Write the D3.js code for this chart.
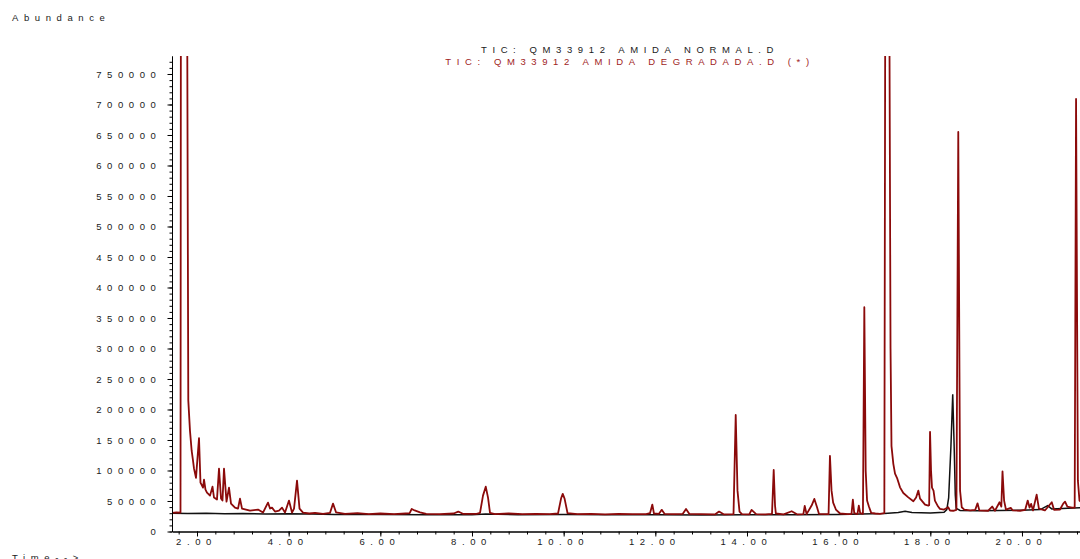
<!DOCTYPE html>
<html>
<head>
<meta charset="utf-8">
<script src="https://cdn.jsdelivr.net/npm/d3@7"></script>
<style>
  body { margin: 0; background: #fff; }
  svg text { font-family: 'Liberation Sans', Arial, sans-serif; font-size: 9.5px; fill: #1a1a1a; letter-spacing: 5.6px; }
</style>
</head>
<body>
<div id="chart"></div>
<script>
// time (min), abundance
var normalTrace = [
  [1.46, 30000], [1.8, 29500], [2.2, 30000], [2.6, 29000], [3.0, 29500], [3.5, 28500],
  [4.0, 29000], [4.5, 28500], [5.0, 28000], [6.0, 28000], [7.0, 27500], [8.0, 27500],
  [8.3, 28500], [9.0, 27500], [10.0, 28000], [11.0, 27500], [12.0, 27500], [13.0, 27000],
  [14.0, 27500], [15.0, 27500], [16.0, 28000], [16.5, 28500], [17.0, 29500], [17.3, 31000],
  [17.45, 33000], [17.6, 31000], [18.0, 30500], [18.3, 31500], [18.36, 36000], [18.40, 55000],
  [18.45, 140000], [18.489, 225000], [18.52, 140000], [18.545, 60000], [18.565, 38000],
  [18.65, 34500], [19.0, 34000], [19.5, 34500], [20.0, 35000], [20.4, 36000], [20.56, 42500],
  [20.65, 37000], [21.0, 38000], [21.31, 39000]
]

var degradedTrace = [
  [1.46, 30500], [1.55, 31500], [1.64, 31000], [1.65, 1000000], [1.73, 2000000], [1.78, 1000000],
  [1.81, 215000], [1.847, 165000], [1.884, 132000], [1.913, 116000], [1.935, 103000], [1.978, 88000],
  [2.044, 153000], [2.076, 80000], [2.131, 72000], [2.153, 85000], [2.185, 68600], [2.218, 63700],
  [2.284, 58800], [2.338, 73500], [2.371, 55600], [2.436, 52300], [2.48, 103000], [2.524, 54000],
  [2.556, 50700], [2.589, 103000], [2.644, 49000], [2.698, 72000], [2.742, 45800], [2.829, 39200],
  [2.895, 37600], [2.938, 54000], [2.982, 37600], [3.156, 34300], [3.331, 36000], [3.44, 31000],
  [3.549, 47400], [3.593, 37600], [3.636, 39200], [3.702, 32700], [3.789, 34300], [3.855, 39200],
  [3.92, 31000], [4.007, 50700], [4.073, 31000], [4.117, 37600], [4.182, 83300], [4.237, 37600],
  [4.313, 31000], [4.45, 29500], [4.575, 30500], [4.75, 29000], [4.902, 30500], [4.968, 45800],
  [5.033, 31500], [5.229, 29000], [5.5, 30000], [5.75, 28500], [6.0, 29500], [6.3, 28500],
  [6.55, 29500], [6.64, 30000], [6.685, 37000], [6.75, 34500], [6.866, 31500], [7.0, 29000],
  [7.3, 28500], [7.6, 29500], [7.70, 32700], [7.8, 29000], [8.1, 29000], [8.175, 30500],
  [8.24, 58800], [8.30, 73500], [8.35, 55600], [8.393, 30500], [8.5, 28500], [8.8, 29500],
  [9.1, 28500], [9.4, 29000], [9.7, 28500], [9.877, 29500], [9.943, 54000], [9.98, 61600],
  [10.02, 54000], [10.085, 30000], [10.3, 28500], [10.6, 29000], [10.9, 28000], [11.2, 29000],
  [11.5, 28500], [11.8, 28500], [11.884, 30000], [11.935, 44100], [11.97, 29500], [12.08, 29000],
  [12.14, 35500], [12.2, 29000], [12.4, 28500], [12.6, 29000], [12.67, 37000], [12.74, 29000],
  [13.0, 28500], [13.3, 28000], [13.39, 32700], [13.5, 28000], [13.706, 28500], [13.754, 191000],
  [13.793, 67000], [13.837, 32700], [13.89, 28500], [14.05, 28000], [14.10, 35500], [14.2, 28500],
  [14.4, 28000], [14.546, 29000], [14.583, 100800], [14.612, 42500], [14.63, 29500], [14.8, 28000],
  [14.975, 33200], [15.1, 28000], [15.23, 28500], [15.26, 42000], [15.30, 28500], [15.41, 42500],
  [15.47, 53400], [15.53, 39200], [15.57, 29000], [15.78, 28500], [15.81, 124000], [15.845, 67000],
  [15.88, 47400], [15.94, 36000], [16.03, 29500], [16.2, 28500], [16.28, 28500], [16.31, 52300],
  [16.34, 30000], [16.41, 28500], [16.44, 42500], [16.47, 30000], [16.53, 29000], [16.56, 367700],
  [16.59, 99700], [16.62, 50700], [16.66, 40900], [16.71, 30500], [16.8, 29500], [16.9, 29000],
  [16.997, 30000], [17.02, 1000000], [17.06, 2000000], [17.10, 1000000], [17.132, 300000],
  [17.153, 140000], [17.193, 111000], [17.23, 94800], [17.28, 86600], [17.339, 72400], [17.411, 63100],
  [17.52, 56000], [17.63, 49500], [17.69, 55600], [17.739, 67000], [17.776, 53900], [17.885, 44100],
  [17.957, 42500], [17.975, 43000], [17.994, 163400], [18.016, 99700], [18.037, 71900], [18.07, 67000],
  [18.10, 50700], [18.17, 40900], [18.21, 37100], [18.30, 36000], [18.39, 39700], [18.43, 34300],
  [18.5, 34000], [18.57, 35500], [18.61, 655000], [18.649, 67000], [18.686, 39700], [18.74, 36000],
  [18.87, 34500], [18.98, 35500], [19.03, 46200], [19.07, 34500], [19.26, 34000], [19.35, 40900],
  [19.41, 34000], [19.51, 47900], [19.55, 40900], [19.575, 98500], [19.61, 50700], [19.65, 36000],
  [19.755, 38700], [19.80, 34500], [19.96, 34000], [20.07, 35500], [20.125, 50700], [20.165, 39200],
  [20.20, 45300], [20.24, 34500], [20.32, 60500], [20.37, 37600], [20.50, 34500], [20.65, 47900],
  [20.70, 35500], [20.83, 36000], [20.90, 45800], [20.94, 49000], [20.99, 40900], [21.09, 39200],
  [21.15, 39000], [21.18, 709000], [21.22, 83300], [21.255, 50700], [21.31, 47000]
]

var yMajorTicks = [0, 50000, 100000, 150000, 200000, 250000, 300000, 350000, 400000, 450000, 500000, 550000, 600000, 650000, 700000, 750000]
var xMajorTicks = [2, 4, 6, 8, 10, 12, 14, 16, 18, 20]
var titles = ['TIC: QM33912 AMIDA NORMAL.D', 'TIC: QM33912 AMIDA DEGRADADA.D (*)']

var w = 1080
var h = 559

var svg = d3.select('div#chart').append('svg')
  .attr('width', w)
  .attr('height', h)

var x = d3.scaleLinear().domain([1.4545, 21.266]).range([172, 1080])
var y = d3.scaleLinear().domain([0, 779500]).range([531.5, 56])

var yMinor = d3.range(0, 770001, 10000)
var xMinor = d3.range(1.6, 21.3, 0.4)

svg.append('clipPath').attr('id', 'plot')
  .append('rect').attr('x', 172).attr('y', 56).attr('width', w - 172).attr('height', 531.5 - 56)

var line = d3.line()
  .x(function (d) { return x(d[0]) })
  .y(function (d) { return y(d[1]) })

var g_lines = svg.append('g').attr('clip-path', 'url(#plot)')

g_lines.append('path')
  .datum(normalTrace)
  .attr('d', line)
  .attr('fill', 'none')
  .attr('stroke', '#111')
  .attr('stroke-width', 1.5)

g_lines.append('path')
  .datum(degradedTrace)
  .attr('d', line)
  .attr('fill', 'none')
  .attr('stroke', '#8b0a0a')
  .attr('stroke-width', 1.8)
  .attr('stroke-linejoin', 'round')

// y axis: minor then major
svg.append('g')
  .attr('transform', 'translate(172,0)')
  .call(d3.axisLeft(y).tickValues(yMinor).tickSize(2.5).tickSizeOuter(0).tickFormat(''))
svg.append('g')
  .attr('class', 'yaxis')
  .attr('transform', 'translate(172,0)')
  .call(d3.axisLeft(y).tickValues(yMajorTicks).tickSize(4.5).tickPadding(6).tickSizeOuter(0).tickFormat(d3.format('d')))

// x axis
svg.append('g')
  .attr('transform', 'translate(0,531.5)')
  .call(d3.axisBottom(x).tickValues(xMinor).tickSize(3).tickSizeOuter(0).tickFormat(''))
svg.append('g')
  .attr('class', 'xaxis')
  .attr('transform', 'translate(0,531.5)')
  .call(d3.axisBottom(x).tickValues(xMajorTicks).tickSize(5).tickPadding(1.4).tickSizeOuter(0).tickFormat(d3.format('.2f')))

svg.selectAll('.domain').attr('stroke', '#000')
svg.selectAll('.tick line').attr('stroke', '#000')
svg.selectAll('.tick text')
  .attr('font-family', null)
  .attr('font-size', null)
  .attr('fill', '#1a1a1a')
  .style('letter-spacing', '5.6px')
svg.selectAll('.xaxis .tick text').attr('dx', '-1')

svg.append('text').attr('x', 12).attr('y', 21).text('Abundance')
svg.append('text').attr('x', 12).attr('y', 560.5).text('Time-->')

svg.append('text').attr('x', 630).attr('y', 53.3).attr('text-anchor', 'middle').text(titles[0])
svg.append('text').attr('x', 630).attr('y', 64.7).attr('text-anchor', 'middle')
  .style('fill', '#a01c1c').text(titles[1])
</script>
</body>
</html>
